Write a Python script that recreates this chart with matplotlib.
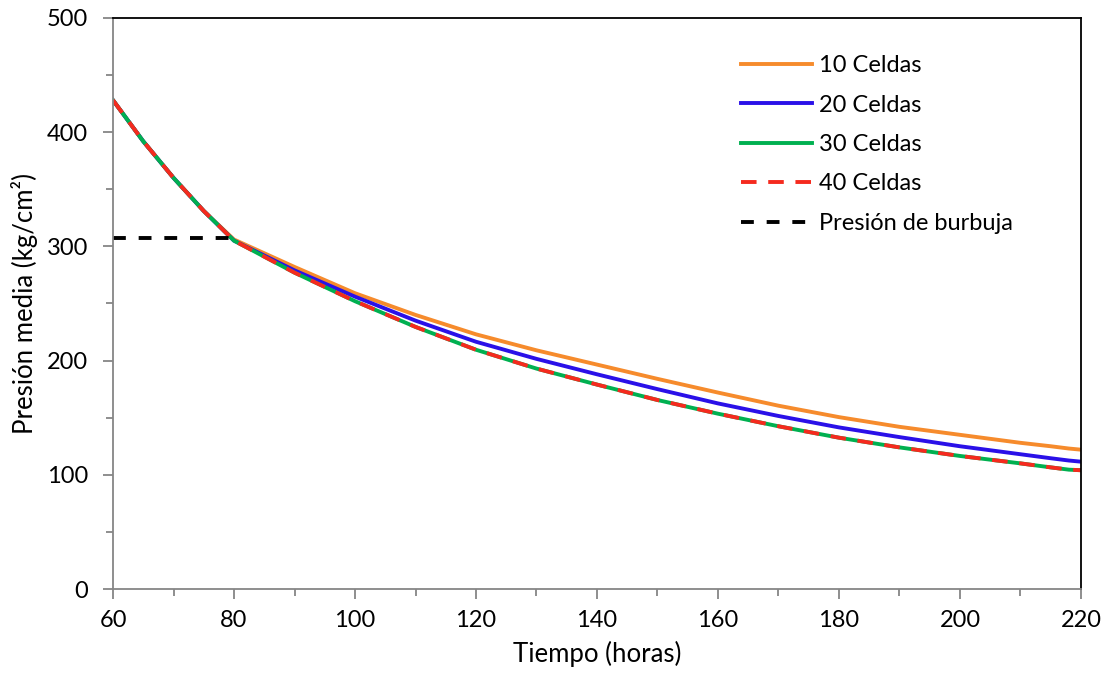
import matplotlib.pyplot as plt
from matplotlib.ticker import MultipleLocator

plt.rcParams['font.family'] = ['Lato', 'DejaVu Sans']

# Data
tiempo = [60, 65, 70, 75, 80, 90, 100, 110, 120, 130, 140, 150, 160, 170, 180, 190, 200, 210, 215, 218, 220]
celdas_10 = [428, 392, 360, 331, 306, 282, 259, 240, 223, 209, 196.5, 184, 172, 160.5, 150.5, 142, 135, 128, 125, 123, 122]
celdas_20 = [428, 392, 360, 331, 305, 279, 256, 235, 216.5, 201.5, 188, 175, 162.5, 151.5, 141.5, 133, 125, 118, 114.5, 112.5, 111.5]
celdas_30 = [428, 392, 360, 331, 305, 277, 252, 229.5, 209.5, 193, 179, 165.5, 153.5, 142.5, 132.5, 124, 116.5, 110, 106.5, 104.5, 104]
celdas_40 = [428, 392, 360, 331, 305, 277, 252, 229.5, 209.5, 193, 179, 165.5, 153.5, 142.5, 132.5, 124, 116.5, 110, 106.5, 104.5, 104]
burbuja_t = [60, 80]
burbuja_p = [307, 307]

fig = plt.figure(figsize=(11.08, 6.73), dpi=100)
ax = fig.add_axes([0.102, 0.1248, 0.8736, 0.8485])

ax.plot(tiempo, celdas_10, color='#F68B2C', lw=2.8, label='10 Celdas')
ax.plot(tiempo, celdas_20, color='#2A10E8', lw=2.8, label='20 Celdas')
ax.plot(tiempo, celdas_30, color='#00B050', lw=2.8, label='30 Celdas')
ax.plot(tiempo, celdas_40, color='#F52A1E', lw=2.8, dashes=(4, 3), label='40 Celdas')
ax.plot(burbuja_t, burbuja_p, color='black', lw=2.8, dashes=(3.3, 3.3), label='Presión de burbuja')

ax.set_xlim(60, 220)
ax.set_ylim(0, 500)
ax.xaxis.set_major_locator(MultipleLocator(20))
ax.xaxis.set_minor_locator(MultipleLocator(10))
ax.yaxis.set_major_locator(MultipleLocator(100))
ax.yaxis.set_minor_locator(MultipleLocator(50))

for s in ['left', 'bottom']:
    ax.spines[s].set_color('#868686')
    ax.spines[s].set_linewidth(1.3)
for s in ['top', 'right']:
    ax.spines[s].set_color('black')
    ax.spines[s].set_linewidth(1.3)

ax.tick_params(which='major', direction='out', length=7, width=1.3, color='#868686', labelsize=17)
ax.tick_params(which='minor', direction='out', length=5, width=1.3, color='#868686')
ax.tick_params(axis='x', which='major', pad=8)
ax.tick_params(axis='y', which='major', pad=11)

ax.set_xlabel('Tiempo (horas)', fontsize=18.5, labelpad=7)
ax.set_ylabel('Presión media (kg/cm²)', fontsize=18.5, labelpad=6)

ax.legend(loc='upper left', bbox_to_anchor=(0.627, 0.972), frameon=False, fontsize=17,
          handlelength=3.0, labelspacing=0.78, handletextpad=0.3)

fig.savefig('out.png', dpi=100)
